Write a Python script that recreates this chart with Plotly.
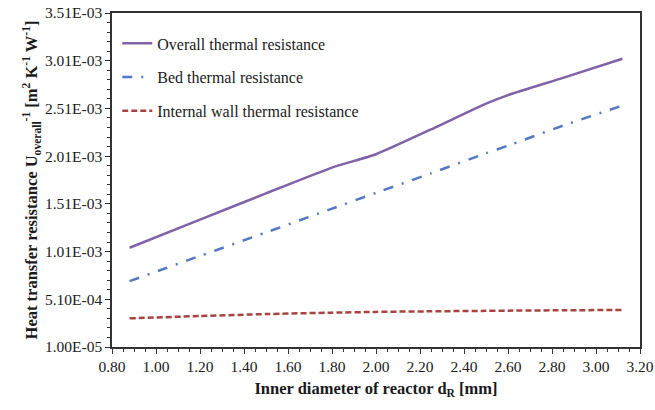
import plotly.graph_objects as go

diameter_mm = [0.88, 1.2, 1.5, 1.8, 2.0, 2.25, 2.5, 2.6, 2.85, 3.12]
overall_res = [1.05e-3, 1.345e-3, 1.62e-3, 1.89e-3, 2.03e-3, 2.29e-3, 2.56e-3, 2.65e-3, 2.83e-3, 3.03e-3]
bed_res = [7.0e-4, 9.65e-4, 1.21e-3, 1.46e-3, 1.625e-3, 1.83e-3, 2.04e-3, 2.12e-3, 2.33e-3, 2.54e-3]
wall_res = [3.1e-4, 3.35e-4, 3.55e-4, 3.7e-4, 3.78e-4, 3.84e-4, 3.89e-4, 3.91e-4, 3.95e-4, 3.98e-4]

y_tickvals = [1.0e-5, 5.1e-4, 1.01e-3, 1.51e-3, 2.01e-3, 2.51e-3, 3.01e-3, 3.51e-3]
y_ticktext = ["1.00E-05", "5.10E-04", "1.01E-03", "1.51E-03", "2.01E-03", "2.51E-03", "3.01E-03", "3.51E-03"]
x_tickvals = [0.8, 1.0, 1.2, 1.4, 1.6, 1.8, 2.0, 2.2, 2.4, 2.6, 2.8, 3.0, 3.2]
x_ticktext = [f"{v:.2f}" for v in x_tickvals]

font_family = "Liberation Serif, Times New Roman, serif"
txt_color = "#1a1a1a"

fig = go.Figure()
fig.add_trace(go.Scatter(x=diameter_mm, y=overall_res, mode="lines", name="Overall thermal resistance",
                         line=dict(color="#7F63A8", width=2.5, shape="spline", smoothing=0.5), legendgroup="a"))
fig.add_trace(go.Scatter(x=diameter_mm, y=bed_res, mode="lines", name="Bed thermal resistance",
                         line=dict(color="#5379C2", width=2.5, dash="10px,9px,2px,9px", shape="spline", smoothing=0.5),
                         legendgroup="b"))
fig.add_trace(go.Scatter(x=diameter_mm, y=wall_res, mode="lines", name="Internal wall thermal resistance",
                         line=dict(color="#A9433F", width=2.5, dash="6px,3px", shape="spline", smoothing=0.5),
                         legendgroup="c"))

fig.update_layout(
    width=655, height=410,
    margin=dict(l=112, r=15, t=13, b=63),
    paper_bgcolor="white", plot_bgcolor="white",
    font=dict(family=font_family, size=15.5, color=txt_color),
    showlegend=True,
    legend=dict(x=0.01, y=0.96, xanchor="left", yanchor="top", bgcolor="rgba(0,0,0,0)",
                font=dict(family=font_family, size=16, color=txt_color),
                tracegroupgap=10, itemwidth=30),
    xaxis=dict(range=[0.8, 3.2], tickvals=x_tickvals, ticktext=x_ticktext, automargin=False,
               showgrid=False, zeroline=False, showline=True, linecolor="#333333", linewidth=1.5,
               mirror=True, ticks="outside", ticklen=5, tickcolor="#333333",
               tickfont=dict(family=font_family, size=15.5, color=txt_color),
               minor=dict(ticks="outside", dtick=0.05, tick0=0.8, ticklen=3, tickcolor="#333333"),
               title=dict(text="<b>Inner diameter of reactor d<sub>R</sub> [mm]</b>",
                          font=dict(family=font_family, size=16.5, color=txt_color), standoff=8)),
    yaxis=dict(range=[1.0e-5, 3.51e-3], tickvals=y_tickvals, ticktext=y_ticktext, automargin=False,
               showgrid=False, zeroline=False, showline=True, linecolor="#333333", linewidth=1.5,
               mirror=True, ticks="outside", ticklen=5, tickcolor="#333333",
               tickfont=dict(family=font_family, size=15.5, color=txt_color),
               minor=dict(ticks="outside", dtick=1.0e-4, tick0=1.0e-5, ticklen=3, tickcolor="#333333"),
               title=dict(text="<b>Heat transfer resistance U<sub>overall</sub><sup>-1</sup> [m<sup>2</sup> K<sup>-1</sup> W<sup>-1</sup>]</b>",
                          font=dict(family=font_family, size=16.5, color=txt_color), standoff=3)),
)

fig.write_html("out.html")
